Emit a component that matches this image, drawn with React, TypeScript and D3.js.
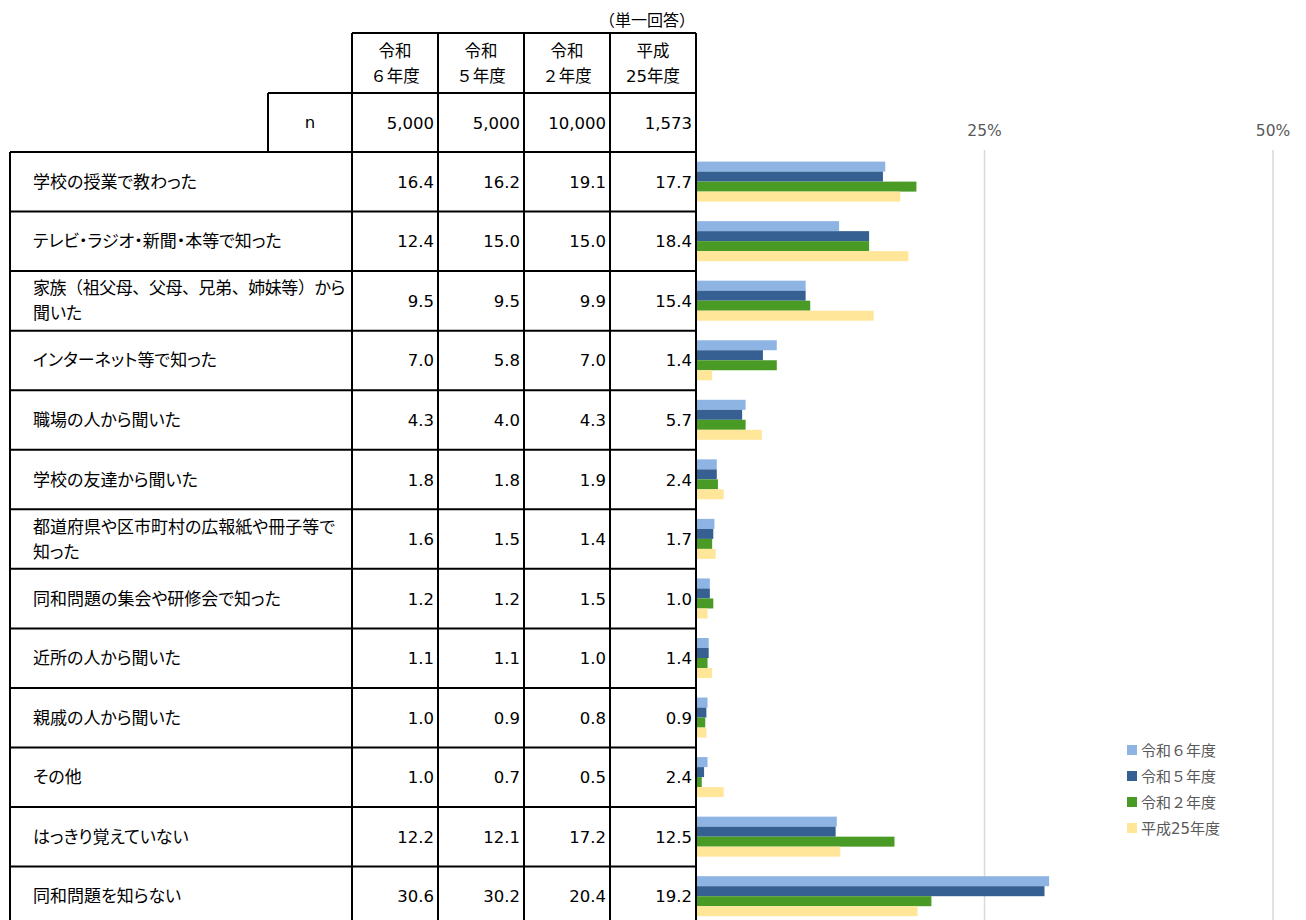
import React from 'react';
import * as d3 from 'd3';

const categories: string[][] = [
  ['学校の授業で教わった'],
  ['テレビ・ラジオ・新聞・本等で知った'],
  ['家族（祖父母、父母、兄弟、姉妹等）から', '聞いた'],
  ['インターネット等で知った'],
  ['職場の人から聞いた'],
  ['学校の友達から聞いた'],
  ['都道府県や区市町村の広報紙や冊子等で', '知った'],
  ['同和問題の集会や研修会で知った'],
  ['近所の人から聞いた'],
  ['親戚の人から聞いた'],
  ['その他'],
  ['はっきり覚えていない'],
  ['同和問題を知らない'],
];

const seriesNames = ['令和６年度', '令和５年度', '令和２年度', '平成25年度'];
const headerLine1 = ['令和', '令和', '令和', '平成'];
const headerLine2 = ['６年度', '５年度', '２年度', '25年度'];
const nValues = ['5,000', '5,000', '10,000', '1,573'];

const r6 = [16.4, 12.4, 9.5, 7.0, 4.3, 1.8, 1.6, 1.2, 1.1, 1.0, 1.0, 12.2, 30.6];
const r5 = [16.2, 15.0, 9.5, 5.8, 4.0, 1.8, 1.5, 1.2, 1.1, 0.9, 0.7, 12.1, 30.2];
const r2 = [19.1, 15.0, 9.9, 7.0, 4.3, 1.9, 1.4, 1.5, 1.0, 0.8, 0.5, 17.2, 20.4];
const h25 = [17.7, 18.4, 15.4, 1.4, 5.7, 2.4, 1.7, 1.0, 1.4, 0.9, 2.4, 12.5, 19.2];
const seriesValues = [r6, r5, r2, h25];

const axisTicks = [25, 50];
const colors = ['#8EB4E3', '#366092', '#4A9A26', '#FFE699'];

const W = 1306;
const H = 920;
const NUM_FONT = "'DejaVu Sans', 'Noto Sans CJK JP', sans-serif";
const JP_FONT = "'Noto Sans CJK JP', sans-serif";
const palt = { fontFeatureSettings: '"palt"' } as React.CSSProperties;
const noPalt = { fontFeatureSettings: 'normal' } as React.CSSProperties;

// split into runs: full-width punctuation （）、 keep full width, rest proportional
function runs(s: string) {
  const out: { t: string; wide: boolean }[] = [];
  for (const ch of s) {
    const wide = ch === '（' || ch === '）' || ch === '、';
    const last = out[out.length - 1];
    if (last && last.wide === wide) last.t += ch;
    else out.push({ t: ch, wide });
  }
  return out;
}

export default function App() {
  const rowTop = 152;
  const rowH = 59.55;
  const idx = categories.map((_, i) => i);
  const yRow = d3.scaleBand<number>().domain(idx).range([rowTop, rowTop + rowH * categories.length]).padding(0);
  const ySub = d3.scaleBand<number>().domain([0, 1, 2, 3]).range([9.6, 49.6]).padding(0);
  const x = d3.scaleLinear().domain([0, 50]).range([696, 1273]);
  const col = d3.scaleBand<number>().domain([0, 1, 2, 3]).range([352, 696]).padding(0);

  const tableLeft = 10;
  const labelRight = 352;
  const tableRight = 696;
  const headerTop = 33;
  const nTop = 93;
  const nLeft = 268;
  const tableBottom = rowTop + rowH * categories.length;

  const lineStyle = { stroke: '#000', strokeWidth: 2 };

  return (
    <svg width={W} height={H} style={{ position: 'absolute', left: 0, top: 0, background: '#fff' }}>
      {/* gridlines */}
      {axisTicks.map((t) => (
        <g key={t}>
          <line x1={x(t)} x2={x(t)} y1={150} y2={H} stroke="#D9D9D9" strokeWidth={1.5} />
          <text x={x(t)} y={136} textAnchor="middle" fontFamily={NUM_FONT} fontSize={15.5} fill="#595959">
            {t}%
          </text>
        </g>
      ))}

      {/* bars */}
      {idx.map((i) => (
        <g key={i} transform={`translate(0,${yRow(i)})`}>
          {seriesValues.map((vals, s) => (
            <rect
              key={s}
              x={x(0)}
              y={ySub(s)}
              width={x(vals[i]) - x(0)}
              height={ySub.bandwidth()}
              fill={colors[s]}
            />
          ))}
        </g>
      ))}

      {/* table text */}
      <text x={tableRight - 1} y={26} textAnchor="end" fontFamily={JP_FONT} fontSize={16} fill="#000">
        （単一回答）
      </text>
      {headerLine1.map((h, j) => (
        <g key={j}>
          <text x={col(j)! + col.bandwidth() / 2} y={57} textAnchor="middle" fontFamily={JP_FONT} fontSize={16.5} fill="#000">
            {h}
          </text>
          <text x={col(j)! + col.bandwidth() / 2} y={82} textAnchor="middle" fontFamily={NUM_FONT} fontSize={16.5} fill="#000">
            {headerLine2[j]}
          </text>
          <text x={col(j)! + col.bandwidth() - 4} y={129} textAnchor="end" fontFamily={NUM_FONT} fontSize={16.5} fill="#000">
            {nValues[j]}
          </text>
        </g>
      ))}
      <text x={(nLeft + labelRight) / 2} y={128} textAnchor="middle" fontFamily={NUM_FONT} fontSize={16.5} fill="#000">
        n
      </text>

      {idx.map((i) => {
        const cy = yRow(i)! + rowH / 2;
        const lines = categories[i];
        return (
          <g key={i}>
            {lines.map((ln, k) => {
              const rs = runs(ln);
              const hasWide = rs.some((r) => r.wide);
              return (
                <text
                  key={k}
                  x={33}
                  y={cy + 6 + (k - (lines.length - 1) / 2) * 25}
                  fontFamily={JP_FONT}
                  fontSize={17}
                  fill="#000"
                  letterSpacing={hasWide ? -0.45 : 0}
                >
                  {rs.map((r, m) => (
                    <tspan key={m} style={r.wide ? noPalt : palt}>
                      {r.t}
                    </tspan>
                  ))}
                </text>
              );
            })}
            {seriesValues.map((vals, s) => (
              <text
                key={s}
                x={col(s)! + col.bandwidth() - 4}
                y={cy + 6}
                textAnchor="end"
                fontFamily={NUM_FONT}
                fontSize={16.5}
                fill="#000"
              >
                {vals[i].toFixed(1)}
              </text>
            ))}
          </g>
        );
      })}

      {/* table lines */}
      <line x1={labelRight} x2={tableRight} y1={headerTop} y2={headerTop} {...lineStyle} />
      <line x1={nLeft} x2={tableRight} y1={nTop} y2={nTop} {...lineStyle} />
      <line x1={nLeft} x2={nLeft} y1={nTop} y2={rowTop} {...lineStyle} />
      {[352, 438, 524, 610, 696].map((xv) => (
        <line key={xv} x1={xv} x2={xv} y1={headerTop} y2={tableBottom} {...lineStyle} />
      ))}
      <line x1={tableLeft} x2={tableLeft} y1={rowTop} y2={tableBottom} {...lineStyle} />
      {idx.map((i) => (
        <line key={i} x1={tableLeft} x2={tableRight} y1={yRow(i)} y2={yRow(i)} {...lineStyle} />
      ))}

      {/* legend */}
      {seriesNames.map((nm, s) => (
        <g key={s} transform={`translate(1127,${750 + s * 26})`}>
          <rect x={0} y={-5} width={10} height={10} fill={colors[s]} />
          <text x={14} y={5.5} fontFamily={NUM_FONT} fontSize={15} fill="#595959">
            {nm}
          </text>
        </g>
      ))}
    </svg>
  );
}
